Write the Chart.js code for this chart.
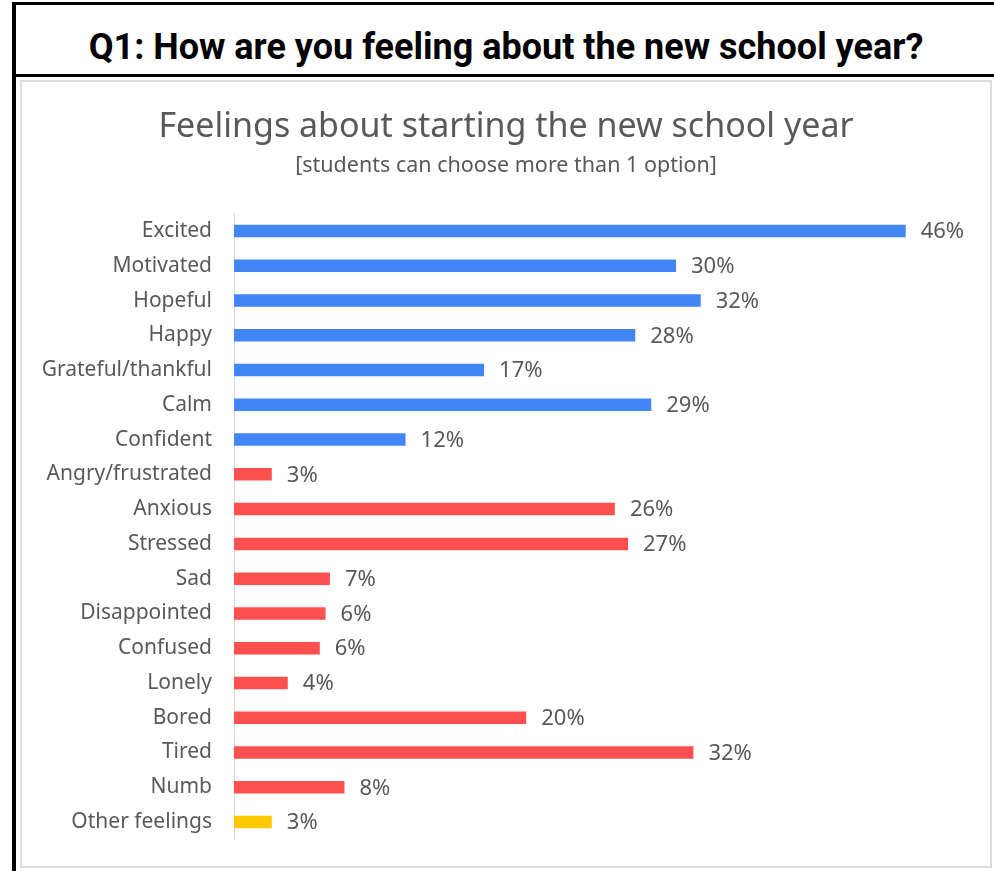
<!DOCTYPE html>
<html>
<head>
<meta charset="utf-8">
<script src="https://cdn.jsdelivr.net/npm/chart.js@4"></script>
<style>
  body { margin: 0; background: #fff; width: 994px; height: 871px; overflow: hidden; position: relative; }
  .frame { position: absolute; left: 12px; top: 2px; width: 1000px; height: 900px; border-left: 4px solid #000; border-top: 3px solid #000; }
  .header { position: absolute; left: 16px; top: 5px; width: 980px; height: 72px; box-sizing: border-box; padding-top: 14px;
            border-bottom: 3px solid #000;
            font-family: "Roboto", sans-serif; font-weight: bold; font-size: 36px; color: #000;
            display: flex; align-items: center; justify-content: center; }
  .box { position: absolute; left: 20px; top: 80px; width: 968px; height: 784px; border: 2px solid #dcdcdc; background: #fff; }
</style>
</head>
<body>
<div class="frame"></div>
<div class="header"><span>Q1: How are you feeling about the new school year?</span></div>
<div class="box"><canvas id="chart" width="968" height="784"></canvas></div>
<script>
// chart values (share of students, %)
const feelings = ['Excited', 'Motivated', 'Hopeful', 'Happy', 'Grateful/thankful', 'Calm', 'Confident',
  'Angry/frustrated', 'Anxious', 'Stressed', 'Sad', 'Disappointed', 'Confused', 'Lonely', 'Bored',
  'Tired', 'Numb', 'Other feelings'];
const shares = [46.2, 30.4, 32.1, 27.6, 17.2, 28.7, 11.8, 2.6, 26.2, 27.1, 6.6, 6.3, 5.9, 3.7, 20.1, 31.6, 7.6, 2.6];
const groups = ['pos', 'pos', 'pos', 'pos', 'pos', 'pos', 'pos',
  'neg', 'neg', 'neg', 'neg', 'neg', 'neg', 'neg', 'neg', 'neg', 'neg', 'other'];

const groupColors = { pos: '#4285f4', neg: '#ff5050', other: '#ffc800' };
const grey = '#595959';
const font = '"Noto Sans", sans-serif';

// draws the "46%" labels at the end of each bar
const valueLabels = {
  id: 'valueLabels',
  afterDatasetsDraw(chart) {
    const ctx = chart.ctx;
    const meta = chart.getDatasetMeta(0);
    ctx.save();
    ctx.font = '22px ' + font;
    ctx.fillStyle = grey;
    ctx.textBaseline = 'middle';
    meta.data.forEach((bar, i) => {
      ctx.fillText(Math.round(shares[i]) + '%', bar.x + 15, bar.y + 1);
    });
    ctx.restore();
  }
};

new Chart(document.getElementById('chart'), {
  type: 'bar',
  data: {
    labels: feelings,
    datasets: [{
      data: shares,
      backgroundColor: groups.map(g => groupColors[g]),
      categoryPercentage: 1,
      barPercentage: 0.36
    }]
  },
  options: {
    indexAxis: 'y',
    responsive: false,
    animation: false,
    layout: { padding: { left: 0, right: 0, top: 0, bottom: 15 } },
    plugins: {
      legend: { display: false },
      tooltip: { enabled: false },
      title: {
        display: true,
        text: 'Feelings about starting the new school year',
        color: grey,
        font: { family: font, size: 34, weight: 'normal' },
        padding: { top: 25, bottom: 0 }
      },
      subtitle: {
        display: true,
        text: '[students can choose more than 1 option]',
        color: grey,
        font: { family: font, size: 21.5 },
        padding: { top: 5, bottom: 35 }
      }
    },
    scales: {
      x: { display: false, min: 0, max: 52 },
      y: {
        afterFit(scale) { scale.width = 212; },
        grid: { display: false },
        border: { display: true, color: '#d9d9d9', width: 1 },
        ticks: { color: grey, font: { family: font, size: 21 }, padding: 14, autoSkip: false }
      }
    }
  },
  plugins: [valueLabels]
});
</script>
</body>
</html>
